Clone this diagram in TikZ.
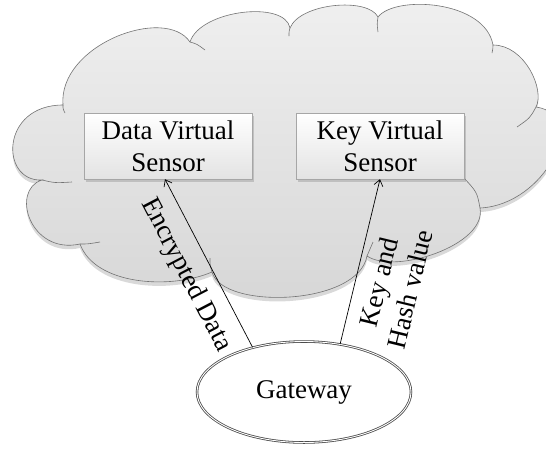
\documentclass[tikz,border=0pt]{standalone}
\usepackage{fontspec}
\setmainfont{Liberation Serif}
\usetikzlibrary{shapes.geometric,shadows,arrows.meta}

\begin{document}
\begin{tikzpicture}[x=1pt,y=-1pt,font=\fontsize{27}{32}\selectfont,
  cloudline/.style={draw=gray!90!black, line width=0.6pt},
  sensor/.style={draw=gray!70, top color=white, bottom color=gray!22, minimum width=168pt, minimum height=66pt, inner sep=0pt, align=center, drop shadow={opacity=0.35, shadow xshift=1.5pt, shadow yshift=-2.5pt}},
  gate/.style={ellipse, draw=black!70, double=white, double distance=0.9pt, line width=0.8pt, fill=white, minimum width=214pt, minimum height=101pt, inner sep=0pt},
  link/.style={draw=black, line width=0.7pt, -{Straight Barb[length=6pt,width=9pt,line width=0.7pt]}}]
\useasboundingbox (0,0) rectangle (546,448);
\clip (0,0) rectangle (546,448);
\path [cloudline, top color=gray!12, bottom color=gray!32, drop shadow={opacity=0.3, shadow xshift=0pt, shadow yshift=-4pt}]
  (63,105) .. controls (58,45) and (165,5) .. (190,42)
  .. controls (200,10) and (285,0) .. (290,28)
  .. controls (300,3) and (368,-3) .. (378,17)
  .. controls (395,-5) and (485,0) .. (493,45)
  .. controls (525,45) and (545,90) .. (536,107)
  .. controls (590,115) and (545,205) .. (480,208)
  .. controls (487,245) and (395,275) .. (367,256)
  .. controls (358,306) and (222,310) .. (212,272)
  .. controls (170,290) and (95,285) .. (80,244)
  .. controls (30,255) and (10,190) .. (42,180)
  .. controls (0,182) and (0,105) .. (63,105) -- cycle;
\draw [cloudline] (63,105) .. controls (63,109) .. (65,113);
\draw [cloudline] (190,42) .. controls (197,44) .. (205,50);
\draw [cloudline] (290,28) .. controls (289,31) .. (289,36);
\draw [cloudline] (378,17) .. controls (377,24) .. (378,32);
\draw [cloudline] (493,45) .. controls (493,48) .. (492,53);
\draw [cloudline] (536,107) .. controls (530,118) .. (517,127);
\draw [cloudline] (480,208) .. controls (477,192) .. (463,177);
\draw [cloudline] (367,256) .. controls (370,249) .. (373,242);
\draw [cloudline] (212,272) .. controls (210,265) .. (210,258);
\draw [cloudline] (80,244) .. controls (88,244) .. (100,242);
\draw [cloudline] (42,180) .. controls (55,183) .. (72,182);
\node [sensor] (dvs) at (168,146) {Data Virtual\\Sensor};
\node [sensor] (kvs) at (380,146) {Key Virtual\\Sensor};
\node [gate] (gw) at (304,392) {Gateway};
\draw [link] (gw.139) -- ([xshift=-3pt]dvs.south) node [midway, sloped, below, inner sep=13pt] (enc) {Encrypted Data};
\draw [link] (gw.53) -- (kvs.south) node [pos=0.41, sloped, below, inner sep=13pt, align=center] (keyhash) {Key and\\Hash value};
\end{tikzpicture}
\end{document}
